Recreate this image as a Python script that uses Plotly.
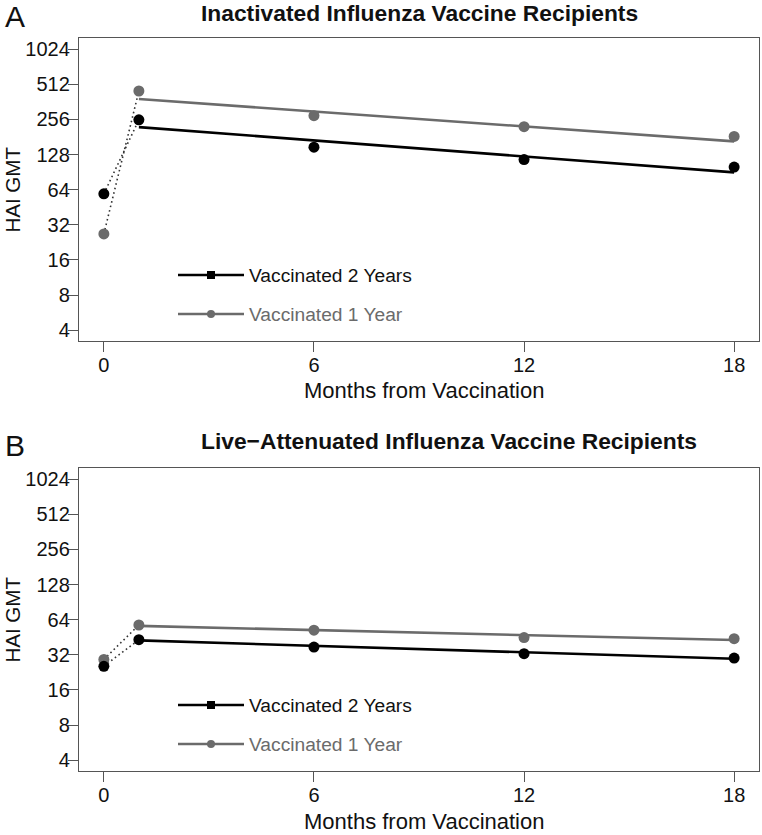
import math
import plotly.graph_objects as go

# ---------------- data ----------------
months = [0, 1, 6, 12, 18]
fit_months = [1, 18]

# Panel A: inactivated influenza vaccine (HAI GMT)
iiv_2yr = [59, 254, 148, 116, 100]
iiv_1yr = [26.7, 449, 276, 222, 183]
iiv_fit_2yr = [220, 90]
iiv_fit_1yr = [383, 166]

# Panel B: live-attenuated influenza vaccine (HAI GMT)
laiv_2yr = [25.5, 43.1, 37.3, 32.7, 30.0]
laiv_1yr = [29.2, 57.6, 52.0, 45.0, 44.0]
laiv_fit_2yr = [42.5, 29.6]
laiv_fit_1yr = [56.6, 42.8]

y_ticks = [4, 8, 16, 32, 64, 128, 256, 512, 1024]
x_ticks = [0, 6, 12, 18]

series_names = ["Vaccinated 2 Years", "Vaccinated 1 Year"]
panel_titles = ["Inactivated Influenza Vaccine Recipients",
                "Live\u2212Attenuated Influenza Vaccine Recipients"]
panel_letters = ["A", "B"]
x_title = "Months from Vaccination"
y_title = "HAI GMT"

# ---------------- styling ----------------
FONT = "Liberation Sans, Arial, Helvetica, sans-serif"
BLACK = "#000000"
GREY = "#6b6b6b"
AXC = "#555555"
TXT = "#111111"

W, H = 762, 835
ML, MR, MT, MB = 79, 3, 38, 64
PW = W - ML - MR
PH = H - MT - MB


def px_x(x):
    return (x - ML) / PW


def px_y(y):
    return (H - MB - y) / PH


domA = [px_y(341), 1.0]
domB = [0.0, px_y(468)]

fig = go.Figure()

panels = [
    ("x", "y", iiv_2yr, iiv_1yr, iiv_fit_2yr, iiv_fit_1yr, "legend"),
    ("x2", "y2", laiv_2yr, laiv_1yr, laiv_fit_2yr, laiv_fit_1yr, "legend2"),
]

for xa, ya, s2, s1, f2, f1, lg in panels:
    # dotted pre -> post vaccination segments
    for s in (s2, s1):
        fig.add_trace(go.Scatter(x=months[:2], y=s[:2], mode="lines",
                                 line=dict(color="#333333", width=1.6, dash="1.6px,3px"),
                                 showlegend=False, hoverinfo="skip",
                                 xaxis=xa, yaxis=ya))
    # fitted decay lines
    fig.add_trace(go.Scatter(x=fit_months, y=f1, mode="lines",
                             line=dict(color=GREY, width=2.6),
                             showlegend=False, xaxis=xa, yaxis=ya))
    fig.add_trace(go.Scatter(x=fit_months, y=f2, mode="lines",
                             line=dict(color=BLACK, width=2.6),
                             showlegend=False, xaxis=xa, yaxis=ya))
    # observed GMTs
    fig.add_trace(go.Scatter(x=months, y=s1, mode="markers",
                             marker=dict(color=GREY, size=11),
                             showlegend=False, xaxis=xa, yaxis=ya))
    fig.add_trace(go.Scatter(x=months, y=s2, mode="markers",
                             marker=dict(color=BLACK, size=11),
                             showlegend=False, xaxis=xa, yaxis=ya))
    # legend entries
    fig.add_trace(go.Scatter(x=[None], y=[None], mode="lines+markers",
                             name=series_names[0], legend=lg, legendgroup=lg + "a",
                             line=dict(color=BLACK, width=2.6),
                             marker=dict(color=BLACK, size=8, symbol="square"),
                             xaxis=xa, yaxis=ya))
    fig.add_trace(go.Scatter(x=[None], y=[None], mode="lines+markers",
                             name='<span style="color:%s">%s</span>' % (GREY, series_names[1]),
                             legend=lg, legendgroup=lg + "b",
                             line=dict(color=GREY, width=2.6),
                             marker=dict(color=GREY, size=8, symbol="circle"),
                             xaxis=xa, yaxis=ya))

yr = [math.log10(2 ** 1.69), math.log10(2 ** 10.32)]
xr = [-0.71, 18.71]

axis_common = dict(showline=True, linecolor=AXC, linewidth=1.4, mirror=True,
                   ticks="outside", ticklen=10, tickwidth=1.3, tickcolor=AXC,
                   showgrid=False, zeroline=False,
                   tickfont=dict(family=FONT, size=20, color=TXT))

legend_common = dict(xanchor="left", yanchor="top", bgcolor="rgba(0,0,0,0)",
                     itemwidth=66, tracegroupgap=11, traceorder="grouped",
                     font=dict(family=FONT, size=19.2, color=TXT))

fig.update_layout(
    width=W, height=H, autosize=False,
    margin=dict(l=ML, r=MR, t=MT, b=MB, pad=0),
    paper_bgcolor="white", plot_bgcolor="white",
    font=dict(family=FONT, color=TXT),
    xaxis=dict(domain=[0, 1], range=xr, tickvals=x_ticks, anchor="y",
               ticklabelstandoff=-4, **axis_common),
    yaxis=dict(domain=domA, type="log", range=yr, tickvals=y_ticks,
               ticktext=[str(t) for t in y_ticks], anchor="x",
               ticklabelstandoff=-6, **axis_common),
    xaxis2=dict(domain=[0, 1], range=xr, tickvals=x_ticks, anchor="y2",
                ticklabelstandoff=-4, **axis_common),
    yaxis2=dict(domain=domB, type="log", range=yr, tickvals=y_ticks,
                ticktext=[str(t) for t in y_ticks], anchor="x2",
                ticklabelstandoff=-6, **axis_common),
    legend=dict(x=px_x(173), y=px_y(256), **legend_common),
    legend2=dict(x=px_x(173), y=px_y(686), **legend_common),
    showlegend=True,
)

ann = []
for title, letter, ty, ly, plot_top, plot_bot, xt_y in [
    (panel_titles[0], panel_letters[0], 13, 16, 38, 341, 390),
    (panel_titles[1], panel_letters[1], 441, 445, 468, 771, 821),
]:
    ann.append(dict(text="<b>%s</b>" % title, x=px_x(199), y=px_y(ty), xref="paper", yref="paper",
                    xanchor="left", yanchor="middle", showarrow=False,
                    font=dict(family=FONT, size=22.8, color=TXT)))
    ann.append(dict(text=letter, x=px_x(3), y=px_y(ly), xref="paper", yref="paper",
                    xanchor="left", yanchor="middle", showarrow=False,
                    font=dict(family=FONT, size=30, color=TXT)))
    ann.append(dict(text=y_title, x=px_x(12), y=px_y((plot_top + plot_bot) / 2), xref="paper", yref="paper",
                    xanchor="center", yanchor="middle", showarrow=False, textangle=-90,
                    font=dict(family=FONT, size=20.5, color=TXT)))
    ann.append(dict(text=x_title, x=px_x(424), y=px_y(xt_y), xref="paper", yref="paper",
                    xanchor="center", yanchor="middle", showarrow=False,
                    font=dict(family=FONT, size=22, color=TXT)))
fig.update_layout(annotations=ann)

fig.write_html("out.html", config={"displayModeBar": False},
               post_script="document.body.style.margin='0';document.body.style.overflow='hidden';")
